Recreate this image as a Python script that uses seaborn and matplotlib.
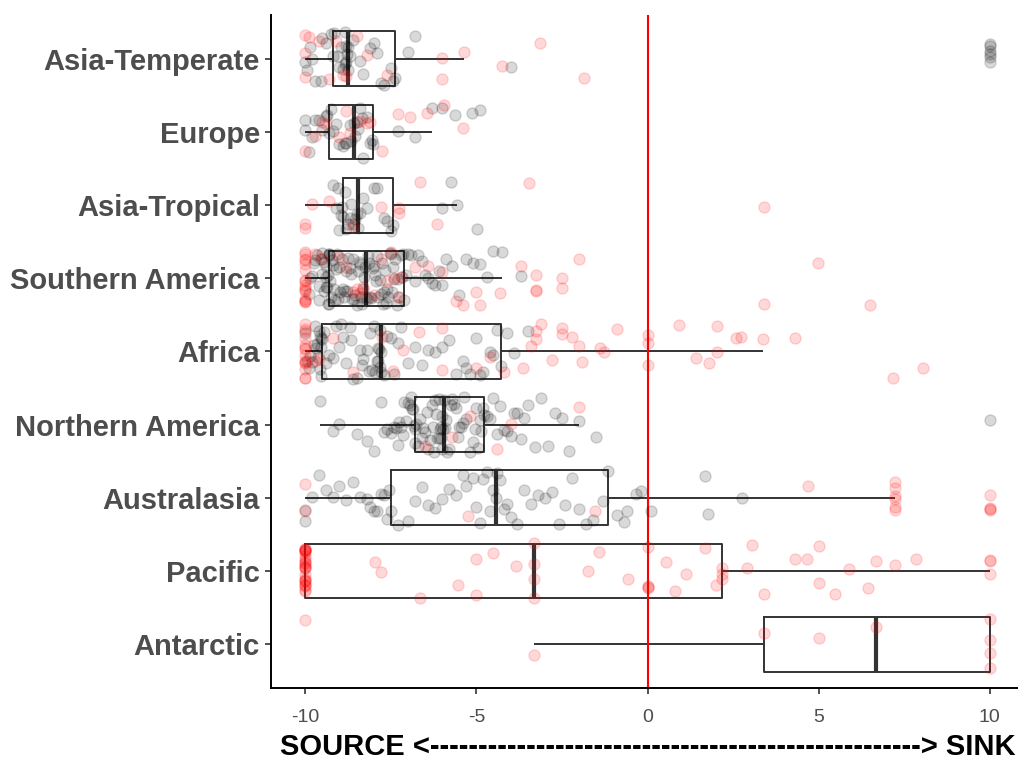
import numpy as np
import pandas as pd
import matplotlib
matplotlib.use("Agg")
import matplotlib.pyplot as plt
import seaborn as sns

regions = ["Asia-Temperate", "Europe", "Asia-Tropical", "Southern America", "Africa",
           "Northern America", "Australasia", "Pacific", "Antarctic"]

at_black = [-10, -9.95, -9.85, -9.8, -9.7, -9.55, -9.5, -9.4, -9.25, -9.2,
            -9.15, -9.05, -9.0, -8.95, -8.9, -8.85, -8.85, -8.82, -8.8, -8.78, -8.76, -8.74,
            -8.7, -8.6, -8.4, -8.3, -8.1, -8.0, -7.9, -7.8, -7.7, -7.5, -7.45, -7.38,
            -7.0, -6.8, -3.98, 10, 10, 10, 10, 10, 10]
at_red = [-10, -10, -10, -9.9, -9.6, -9.3, -9.1, -8.9, -8.8, -8.5, -8.2, -7.6,
          -6.0, -6.0, -5.35, -4.24, -3.13, -1.85]

eu_black = [-10, -10, -9.9, -9.8, -9.7, -9.6, -9.5, -9.4, -9.35, -9.30,
            -9.25, -9.2, -9.1, -9.0, -8.9, -8.85, -8.8, -8.7, -8.65, -8.58,
            -8.55, -8.5, -8.45, -8.4, -8.35, -8.3, -8.2, -8.1, -8.05, -8.01,
            -7.28, -6.79, -6.31, -5.99, -5.61, -5.12, -4.88]
eu_red = [-10, -9.7, -9.5, -9.4, -9.0, -8.8, -8.7, -8.4, -8.2, -8.1,
          -7.75, -7.28, -6.93, -6.43, -5.96, -5.38]

atr_black = [-9.2, -9.1, -9.05, -9.0, -8.95, -8.92, -8.89,
             -8.85, -8.8, -8.75, -8.7, -8.65, -8.6, -8.55, -8.5, -8.47,
             -8.4, -8.3, -8.2, -8.0, -7.9, -7.7, -7.6, -7.5, -7.43,
             -6.0, -5.73, -5.57, -4.98]
atr_red = [-10, -10, -9.8, -9.3, -8.6, -7.8, -7.25, -7.25, -6.64, -6.14, -3.45, 3.39]

sa_black = [-9.9, -9.85, -9.8, -9.75, -9.7, -9.65, -9.6, -9.6, -9.55, -9.5, -9.5,
            -9.45, -9.45, -9.4, -9.4, -9.38, -9.36, -9.34, -9.34, -9.32, -9.32, -9.31,
            -9.30,
            -9.28, -9.25, -9.22, -9.2, -9.17, -9.14, -9.1, -9.07, -9.04, -9.0, -8.97,
            -8.94, -8.9, -8.87, -8.84, -8.8, -8.77, -8.74, -8.7, -8.67, -8.64, -8.6,
            -8.57, -8.54, -8.5, -8.47, -8.44, -8.4, -8.37, -8.34, -8.3, -8.28, -8.25,
            -8.23,
            -8.2, -8.17, -8.13, -8.1, -8.07, -8.03, -8.0, -7.97, -7.93, -7.9, -7.87,
            -7.83, -7.8, -7.77, -7.73, -7.7, -7.67, -7.63, -7.6, -7.57, -7.53, -7.5,
            -7.47, -7.43, -7.4, -7.37, -7.33, -7.3, -7.25, -7.2, -7.16, -7.13,
            -7.11,
            -7.05, -7.0, -6.9, -6.8, -6.7, -6.6, -6.5, -6.4, -6.3, -6.2, -6.1, -6.0,
            -5.9, -5.7, -5.5, -5.3, -5.1, -4.9, -4.7, -4.5, -4.24, -3.7]
sa_red = [-10, -10, -10, -10, -10, -10, -10, -10, -10, -10, -10, -10, -10, -10, -10, -10,
          -9.7, -9.5,
          -9.0, -8.8, -8.6, -8.5, -8.4, -8.3,
          -8.0, -7.8, -7.6, -7.5, -7.4, -7.3, -7.2,
          -6.8, -6.4, -6.0, -5.6, -5.4, -5.0, -4.9, -4.3, -3.7, -3.25, -3.25, -3.25,
          -2.5, -2.5, -2.0, 3.39, 4.99, 6.51]

af_black = [-10, -9.95, -9.9, -9.85, -9.8, -9.75, -9.7, -9.68, -9.65, -9.63, -9.6,
            -9.58, -9.56, -9.55, -9.54, -9.53,
            -9.51,
            -9.45, -9.4, -9.3, -9.2, -9.1, -9.0, -8.95, -8.9, -8.8, -8.7, -8.65, -8.6,
            -8.5, -8.4, -8.35, -8.3, -8.2, -8.15, -8.1, -8.05, -8.0, -7.95, -7.9, -7.88,
            -7.87, -7.85, -7.83, -7.82, -7.8,
            -7.79,
            -7.7, -7.6, -7.5, -7.4, -7.3, -7.2, -7.0, -6.8, -6.6, -6.4, -6.2, -6.0,
            -5.8, -5.6, -5.4, -5.3, -5.2, -5.0, -4.9, -4.8, -4.6, -4.5, -4.4,
            -4.28,
            -4.1, -3.9, -3.5]
af_red = [-10, -10, -10, -10, -10, -10, -10, -10, -10, -10, -10, -10, -10, -10,
          -9.7, -9.6,
          -9.2, -8.6,
          -7.75, -7.45, -7.15, -6.67, -6.0, -6.0, -5.0, -4.6,
          -4.2, -3.65, -3.4, -3.25, -3.25, -3.1, -2.8, -2.5, -2.5, -2.2, -2.0, -1.9,
          -1.4, -1.26, -0.9, 0, 0, 0, 0.91, 1.43, 1.81, 2.04, 2.04, 2.6, 2.72, 3.38,
          4.32, 7.18, 8.04]

na_black = [-9.57, -9.2, -9.0, -8.5, -8.2, -8.0, -7.8, -7.7, -7.6, -7.5, -7.4, -7.35,
            -7.3, -7.25, -7.2, -7.15, -7.1, -7.05, -7.0, -6.95, -6.9, -6.87, -6.85,
            -6.82, -6.8,
            -6.79,
            -6.75, -6.7, -6.65, -6.6, -6.55, -6.5, -6.45, -6.4, -6.35, -6.3, -6.27,
            -6.24, -6.2, -6.17, -6.14, -6.1, -6.08, -6.06, -6.04, -6.02, -6.0, -5.99,
            -5.97,
            -5.96,
            -5.93, -5.9, -5.85, -5.8, -5.75, -5.7, -5.65, -5.6, -5.55, -5.5, -5.45,
            -5.4, -5.35, -5.3, -5.2, -5.1, -5.05, -5.0, -4.95, -4.9, -4.85, -4.8,
            -4.77,
            -4.7, -4.6, -4.5, -4.4, -4.3, -4.2, -4.1, -4.0, -3.9, -3.8, -3.7, -3.6,
            -3.5, -3.3, -3.1, -2.9, -2.7, -2.5, -2.3, -1.99, -1.5, 10]
na_red = [-6.5, -5.7, -5.2, -4.4, -4.0, -1.99]

au_black = [-10, -10, -9.8, -9.6, -9.4, -9.2, -9.0, -8.8, -8.6, -8.4, -8.2, -8.1,
            -8.0, -7.9, -7.8, -7.7, -7.6, -7.55,
            -7.49,
            -7.3, -7.0, -6.8, -6.6, -6.4, -6.2, -6.0, -5.8, -5.6, -5.4, -5.3, -5.1,
            -5.0, -4.9, -4.8, -4.7, -4.6, -4.5,
            -4.43,
            -4.4, -4.3, -4.2, -4.1, -4.0, -3.8, -3.6, -3.4, -3.2, -3.0, -2.8, -2.6,
            -2.4, -2.2, -2.0, -1.8, -1.6, -1.3,
            -1.15,
            -0.9, -0.7, -0.6, -0.33, -0.18, 0.1, 1.68, 1.78, 2.75]
au_red = [-10, -10, -5.23, -1.52, 4.7, 7.22, 7.22, 7.22, 7.22, 7.22, 7.22,
          10, 10, 10, 10]

pa_red = [-10, -10, -10, -10, -10, -10, -10, -10, -10, -10, -10, -10, -10,
          -10, -10, -10, -10, -10, -10, -10, -10, -10, -10, -10, -10, -10,
          -7.95, -7.78, -6.64, -5.53, -5.01, -5.01, -4.5, -3.84,
          -3.31, -3.31, -3.31, -3.31,
          -1.73, -1.43, -0.58, 0, 0, 0, 0, 0.53, 0.8, 1.13, 1.68, 1.99,
          2.19, 2.19, 2.19,
          2.9, 3.05, 3.39, 4.3, 4.67, 5.0, 5.0, 5.47, 5.9, 6.45, 6.69, 7.22, 7.85,
          10, 10, 10]

an_red = [-10, -3.31, 3.39, 5.02, 6.69, 10, 10, 10, 10]

black_sets = {"Asia-Temperate": at_black, "Europe": eu_black, "Asia-Tropical": atr_black,
              "Southern America": sa_black, "Africa": af_black,
              "Northern America": na_black, "Australasia": au_black}
red_sets = {"Asia-Temperate": at_red, "Europe": eu_red, "Asia-Tropical": atr_red,
            "Southern America": sa_red, "Africa": af_red, "Northern America": na_red,
            "Australasia": au_red, "Pacific": pa_red, "Antarctic": an_red}

rows = []
for reg, vals in black_sets.items():
    rows += [(reg, v, "black") for v in vals]
for reg, vals in red_sets.items():
    rows += [(reg, v, "red") for v in vals]
df = pd.DataFrame(rows, columns=["region", "value", "group"])

sns.set_theme(style="ticks")
plt.rcParams["font.family"] = ["Liberation Sans", "DejaVu Sans"]

fig = plt.figure(figsize=(10.18, 7.61), dpi=100)
ax = fig.add_axes([271 / 1018, 1 - 688 / 761, 753 / 1018, 673 / 761])

sns.boxplot(data=df, x="value", y="region", order=regions, orient="h", whis=1.5,
            showfliers=False, showcaps=False, fill=False, color="#333333",
            linecolor="#333333", width=0.75, linewidth=1.4,
            medianprops={"linewidth": 3}, ax=ax)

ax.axvline(0, color="red", lw=1.5, zorder=2.5)

np.random.seed(3)
for grp, col in [("black", "black"), ("red", "red")]:
    sub = df[df["group"] == grp]
    sns.stripplot(data=sub, x="value", y="region", order=regions, orient="h",
                  color=col, edgecolor=col, alpha=0.15, size=8, linewidth=1,
                  jitter=0.38, ax=ax, zorder=3)

ax.set_xlim(-11, 11)
ax.set_ylim(8.6, -0.6)
ax.set_xticks([-10, -5, 0, 5, 10])
ax.set_xticklabels(["-10", "-5", "0", "5", "10"])
for s in ["top", "right"]:
    ax.spines[s].set_visible(False)
for s in ["left", "bottom"]:
    ax.spines[s].set_color("black")
    ax.spines[s].set_linewidth(1.4)
ax.tick_params(axis="x", length=4, width=1.2, color="#333333", labelsize=14,
               labelcolor="#4D4D4D", pad=11)
ax.tick_params(axis="y", length=4, width=1.2, color="#333333", labelsize=21,
               labelcolor="#4D4D4D", pad=4)
for lab in ax.get_yticklabels():
    lab.set_fontweight("bold")
ax.set_ylabel("")
ax.set_xlabel("SOURCE <" + "-" * 51 + "> SINK", fontsize=21, fontweight="bold",
              color="black", labelpad=5)

fig.savefig("out.png", dpi=100)
